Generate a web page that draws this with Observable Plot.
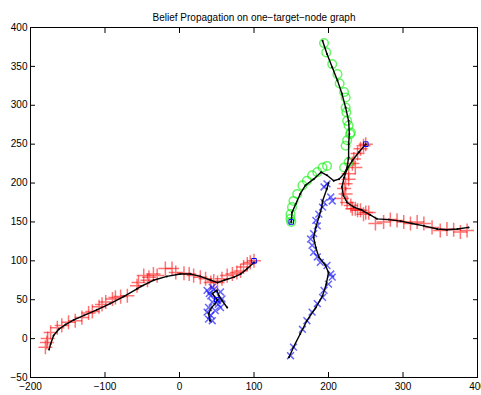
<!DOCTYPE html>
<html><head><meta charset="utf-8">
<script src="https://cdn.jsdelivr.net/npm/d3@7"></script>
<script src="https://cdn.jsdelivr.net/npm/@observablehq/plot@0.6"></script>
<style>body{margin:0;background:#fff} svg{display:block}</style>
</head><body><div id="chart"></div>
<script>
const title = "Belief Propagation on one−target−node graph";
const xTicks = [-200, -100, 0, 100, 200, 300, 400];
const yTicks = [-50, 0, 50, 100, 150, 200, 250, 300, 350, 400];

// true trajectories (black)
const truthRedA = [[100,98],[91,90],[82,83],[73,79],[60,75],[51,72],[42,75],[28,80],[15,83],[1,83],[-17,80],[-35,75],[-52,67],[-57,64],[-75,54],[-93,45],[-111,37],[-128,30],[-142,24],[-153,18],[-162,12],[-169,4],[-173,-7],[-175,-14]];
const truthBlueA = [[64,40],[57,49],[53,55],[50,62],[44,58],[47,54],[51,50],[48,45],[43,40],[39,32],[41,23]];
const truthGreen = [[150,150],[151,162],[156,173],[162,186],[169,197],[180,205],[190,214],[198,210],[207,203],[214,205],[221,212],[225,220],[227,233],[227,250],[228,263],[227,280],[223,297],[218,315],[212,332],[205,349],[198,366],[192,383]];
const truthRedB = [[250,250],[241,240],[232,229],[225,218],[221,207],[218,195],[220,184],[225,175],[234,169],[245,165],[256,159],[265,154],[281,153],[297,151],[312,148],[328,145],[346,141],[359,140],[373,141],[388,143]];
const truthBlueB = [[200,200],[198,193],[192,177],[191,169],[187,156],[183,143],[180,130],[183,117],[187,105],[196,94],[200,85],[197,70],[192,55],[183,40],[171,23],[162,6],[153,-11],[147,-24]];

// observations (coloured markers)
const obsRedA = [[-180,-11],[-178,-5],[-177,0],[-173,8],[-164,14],[-158,17],[-149,21],[-140,23],[-131,27],[-122,33],[-117,35],[-108,41],[-104,44],[-99,47],[-90,51],[-86,53],[-79,54],[-70,55],[-57,68],[-55,72],[-48,81],[-43,75],[-41,79],[-35,83],[-30,81],[-19,90],[-10,90],[-5,85],[6,84],[13,83],[19,81],[28,79],[35,77],[42,72],[46,74],[51,72],[57,77],[64,81],[71,83],[77,85],[82,87],[86,92],[91,96],[95,98],[100,100]];
const obsBlueA = [[44,66],[37,62],[55,60],[42,55],[57,51],[51,49],[44,47],[39,40],[55,40],[48,36],[37,34],[42,30],[39,25],[44,23],[46,63],[52,44],[40,58]];
const obsGreen = [[194,380],[197,368],[205,353],[212,340],[215,328],[221,317],[223,310],[223,297],[224,291],[225,280],[227,274],[230,265],[229,263],[225,255],[223,248],[227,227],[221,220],[198,222],[192,220],[185,214],[178,210],[171,203],[165,197],[158,186],[153,177],[151,169],[149,160],[149,154],[150,150]];
const obsRedB = [[250,250],[247,248],[243,244],[239,238],[234,231],[232,225],[236,220],[227,212],[227,205],[223,199],[221,193],[223,186],[218,180],[225,175],[230,171],[236,167],[232,167],[239,165],[243,165],[247,160],[250,162],[254,162],[263,148],[274,150],[283,153],[292,152],[301,150],[310,148],[319,150],[328,148],[339,143],[350,139],[359,141],[368,140],[377,137],[386,139]];
const obsBlueB = [[149,-22],[153,-11],[165,12],[171,23],[178,34],[185,45],[192,53],[194,62],[200,70],[205,79],[203,83],[198,94],[189,98],[185,105],[180,111],[178,120],[176,128],[180,135],[185,145],[183,152],[187,160],[192,169],[194,175],[194,195],[198,199],[203,182],[205,177]];

const starts = [[100,100],[150,150],[250,250],[50,50]];

const px = d => d[0], py = d => d[1];

const chart = Plot.plot({
  width: 481, height: 395,
  marginLeft: 30, marginRight: 4, marginTop: 27, marginBottom: 18,
  x: {domain: [-200, 400]},
  y: {domain: [-50, 400]},
  style: {fontFamily: "'Liberation Sans', Arial, sans-serif", fontSize: "10px", background: "white", color: "black", overflow: "hidden"},
  marks: [
    Plot.axisX({ticks: xTicks, tickSize: -5, tickPadding: 10, label: null}),
    Plot.axisX({anchor: "top", ticks: xTicks, tickSize: -5, tickFormat: () => "", label: null}),
    Plot.axisY({ticks: yTicks, tickSize: -5, tickPadding: 8, label: null}),
    Plot.axisY({anchor: "right", ticks: yTicks, tickSize: -5, tickFormat: () => "", label: null}),
    Plot.dot(obsRedA, {x: px, y: py, symbol: "plus", stroke: "#ff0000", strokeOpacity: 0.55, r: 4.6}),
    Plot.dot(obsRedB, {x: px, y: py, symbol: "plus", stroke: "#ff0000", strokeOpacity: 0.55, r: 4.6}),
    Plot.dot(obsGreen, {x: px, y: py, symbol: "circle", stroke: "#00ee00", strokeOpacity: 0.6, r: 4.3}),
    Plot.dot(obsBlueA, {x: px, y: py, symbol: "times", stroke: "#0000ff", strokeOpacity: 0.6, r: 3.2}),
    Plot.dot(obsBlueB, {x: px, y: py, symbol: "times", stroke: "#0000ff", strokeOpacity: 0.6, r: 3.2}),
    ...[truthRedA, truthBlueA, truthGreen, truthRedB, truthBlueB].flatMap(t => [
      Plot.line(t, {x: px, y: py, stroke: "black", strokeWidth: 1.4}),
      Plot.dot(t, {x: px, y: py, fill: "black", r: 1})
    ]),
    Plot.dot(starts, {x: px, y: py, symbol: "square", stroke: "#0000ff", strokeWidth: 1, r: 2.6}),
    Plot.frame({stroke: "black", strokeWidth: 1}),
    Plot.text([title], {frameAnchor: "top", dy: -14, fontSize: 10, fill: "black"})
  ]
});
document.getElementById("chart").appendChild(chart);
</script>
</body></html>
